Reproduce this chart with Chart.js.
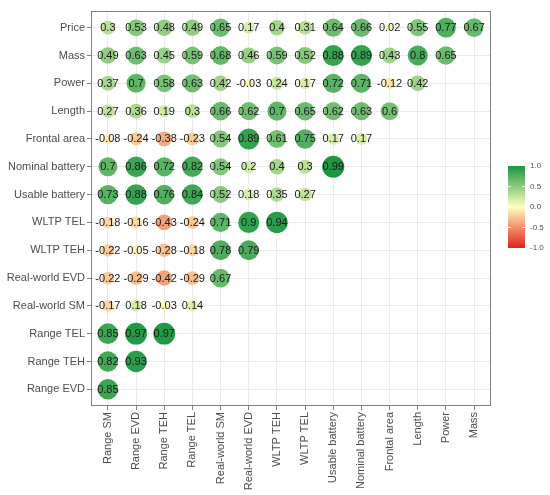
<!DOCTYPE html>
<html>
<head>
<meta charset="utf-8">
<script src="https://cdn.jsdelivr.net/npm/chart.js@4/dist/chart.umd.min.js"></script>
<style>
  body { margin: 0; background: #fff; }
  #wrap { width: 550px; height: 495px; position: relative; }
</style>
</head>
<body>
<div id="wrap"><canvas id="corrChart"></canvas></div>
<script>
// column categories (x axis, left to right)
const xLabels = ["Range SM", "Range EVD", "Range TEH", "Range TEL", "Real-world SM", "Real-world EVD",
  "WLTP TEH", "WLTP TEL", "Usable battery", "Nominal battery", "Frontal area", "Length", "Power", "Mass"];
// row categories (y axis, top to bottom)
const yLabels = ["Price", "Mass", "Power", "Length", "Frontal area", "Nominal battery", "Usable battery",
  "WLTP TEL", "WLTP TEH", "Real-world EVD", "Real-world SM", "Range TEL", "Range TEH", "Range EVD"];

// correlation values per row, starting at the first column
const price = [0.3, 0.53, 0.48, 0.49, 0.65, 0.17, 0.4, 0.31, 0.64, 0.66, 0.02, 0.55, 0.77, 0.67];
const mass = [0.49, 0.63, 0.45, 0.59, 0.68, 0.46, 0.59, 0.52, 0.88, 0.89, 0.43, 0.8, 0.65];
const power = [0.37, 0.7, 0.58, 0.63, 0.42, -0.03, 0.24, 0.17, 0.72, 0.71, -0.12, 0.42];
const length = [0.27, 0.36, 0.19, 0.3, 0.66, 0.62, 0.7, 0.65, 0.62, 0.63, 0.6];
const frontalArea = [-0.08, -0.24, -0.38, -0.23, 0.54, 0.89, 0.61, 0.75, 0.17, 0.17];
const nominalBattery = [0.7, 0.86, 0.72, 0.82, 0.54, 0.2, 0.4, 0.3, 0.99];
const usableBattery = [0.73, 0.88, 0.76, 0.84, 0.52, 0.18, 0.35, 0.27];
const wltpTel = [-0.18, -0.16, -0.43, -0.24, 0.71, 0.9, 0.94];
const wltpTeh = [-0.22, -0.05, -0.28, -0.18, 0.78, 0.79];
const realWorldEvd = [-0.22, -0.29, -0.42, -0.29, 0.67];
const realWorldSm = [-0.17, 0.18, -0.03, 0.14];
const rangeTel = [0.85, 0.97, 0.97];
const rangeTeh = [0.82, 0.93];
const rangeEvd = [0.85];

const legendTicks = [1.0, 0.5, 0.0, -0.5, -1.0];

const rows = [price, mass, power, length, frontalArea, nominalBattery, usableBattery,
  wltpTel, wltpTeh, realWorldEvd, realWorldSm, rangeTel, rangeTeh, rangeEvd];

const points = [];
rows.forEach((vals, r) => vals.forEach((v, c) => points.push({ x: c, y: r, v: v })));

// red - pale yellow - green scale
const low = [227, 33, 28], mid = [255, 255, 191], high = [26, 150, 65];
function colorOf(v) {
  const t = Math.abs(v);
  const end = v < 0 ? low : high;
  const c = mid.map((m, i) => Math.round(m + (end[i] - m) * t));
  return "rgb(" + c.join(",") + ")";
}
const absVals = points.map(p => Math.abs(p.v));
const aMin = Math.min(...absVals), aMax = Math.max(...absVals);
function sizeOf(v) {
  const t = (Math.abs(v) - aMin) / (aMax - aMin);
  return 1.1 * Math.sqrt(16 + 84 * t);
}

const FONT = "'Liberation Sans', Arial, sans-serif";

const cellText = {
  id: "cellText",
  afterDatasetsDraw(chart) {
    const ctx = chart.ctx;
    const meta = chart.getDatasetMeta(0);
    ctx.save();
    ctx.font = "11px " + FONT;
    ctx.fillStyle = "#1a1a1a";
    ctx.textAlign = "center";
    ctx.textBaseline = "middle";
    meta.data.forEach((el, i) => {
      ctx.fillText(String(points[i].v), el.x, el.y + 0.5);
    });
    ctx.restore();
  }
};

const panelAndLegend = {
  id: "panelAndLegend",
  afterDraw(chart) {
    const ctx = chart.ctx;
    const a = chart.chartArea;
    ctx.save();
    ctx.strokeStyle = "#808080";
    ctx.lineWidth = 1;
    ctx.strokeRect(a.left + 0.5, a.top + 0.5, a.right - a.left - 1, a.bottom - a.top - 1);

    // colour bar
    const bx = 508, bw = 17, top = 166, bottom = 248;
    const g = ctx.createLinearGradient(0, top, 0, bottom);
    for (let k = 0; k <= 20; k++) {
      const v = 1 - k / 10;
      g.addColorStop(k / 20, colorOf(v));
    }
    ctx.fillStyle = g;
    ctx.fillRect(bx, top, bw, bottom - top);
    ctx.strokeStyle = "rgba(255,255,255,0.9)";
    ctx.font = "8px " + FONT;
    ctx.textBaseline = "middle";
    ctx.textAlign = "left";
    legendTicks.forEach(v => {
      const y = top + (1 - v) / 2 * (bottom - top);
      if (v > -1 && v < 1) {
        ctx.beginPath();
        ctx.moveTo(bx, y); ctx.lineTo(bx + 3, y);
        ctx.moveTo(bx + bw - 3, y); ctx.lineTo(bx + bw, y);
        ctx.stroke();
      }
      ctx.fillStyle = "#4d4d4d";
      ctx.fillText(v.toFixed(1), 530, y);
    });
    ctx.restore();
  }
};

new Chart(document.getElementById("corrChart"), {
  type: "scatter",
  data: {
    datasets: [{
      data: points,
      pointRadius: ctx => sizeOf(ctx.raw.v),
      pointHoverRadius: ctx => sizeOf(ctx.raw.v),
      backgroundColor: ctx => colorOf(ctx.raw.v),
      borderWidth: 0
    }]
  },
  options: {
    responsive: true,
    maintainAspectRatio: false,
    animation: false,
    events: [],
    layout: { padding: { top: 4, right: 59, left: 0, bottom: 0 } },
    plugins: { legend: { display: false }, tooltip: { enabled: false } },
    scales: {
      x: {
        type: "linear",
        min: -0.6,
        max: 13.6,
        afterBuildTicks: s => { s.ticks = xLabels.map((_, i) => ({ value: i })); },
        afterFit: s => { s.height = 89; },
        border: { display: false },
        grid: { color: "#ebebeb", tickColor: "#808080", tickLength: 4 },
        ticks: {
          autoSkip: false,
          minRotation: 90,
          maxRotation: 90,
          padding: 2,
          color: "#4d4d4d",
          font: { family: FONT, size: 11 },
          callback: v => xLabels[v]
        }
      },
      y: {
        type: "linear",
        reverse: true,
        min: -0.6,
        max: 13.6,
        afterBuildTicks: s => { s.ticks = yLabels.map((_, i) => ({ value: i })); },
        afterFit: s => { s.width = 91; },
        border: { display: false },
        grid: { color: "#ebebeb", tickColor: "#808080", tickLength: 4 },
        ticks: {
          autoSkip: false,
          padding: 2,
          color: "#4d4d4d",
          font: { family: FONT, size: 11 },
          callback: v => yLabels[v]
        }
      }
    }
  },
  plugins: [cellText, panelAndLegend]
});
</script>
</body>
</html>
